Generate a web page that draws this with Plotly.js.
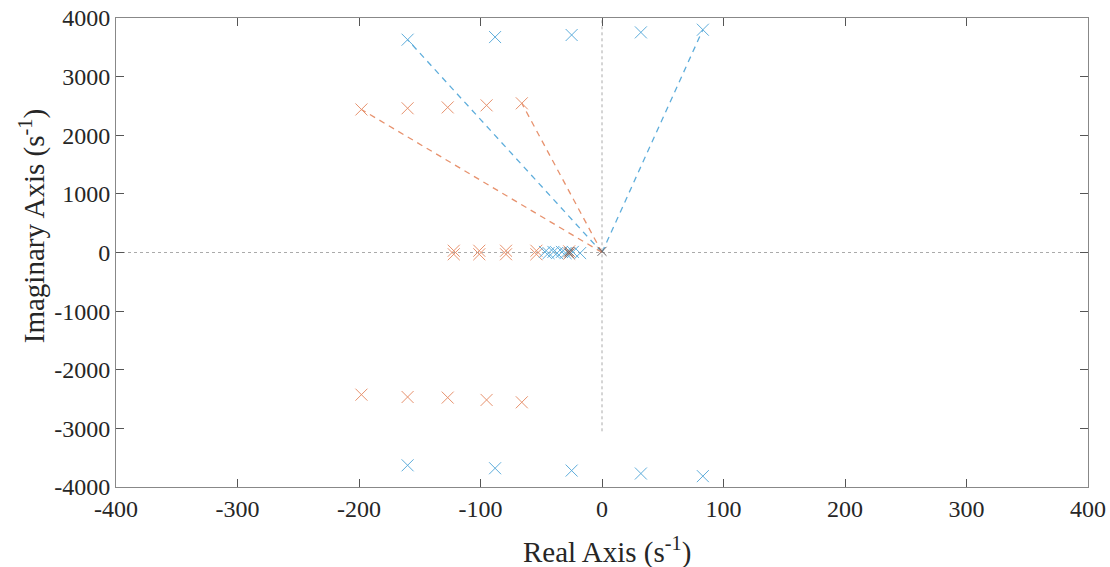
<!DOCTYPE html>
<html>
<head>
<meta charset="utf-8">
<script src="https://cdn.plot.ly/plotly-3.0.1.min.js"></script>
<style>html,body{margin:0;padding:0;background:#fff;}#chart{width:1110px;height:567px;}</style>
</head>
<body>
<div id="chart"></div>
<script>
// Blue poles (upper half; lower half conjugate)
const blueHighRe = [-160, -88, -25, 32, 83];
const blueHighIm = [3630, 3675, 3710, 3755, 3800];
const blueLowRe = [-160, -88, -25, 32, 83];
const blueLowIm = [-3630, -3680, -3720, -3770, -3815];
// Orange poles
const orangeHighRe = [-198, -160, -127, -95, -66];
const orangeHighIm = [2440, 2460, 2475, 2510, 2545];
const orangeLowRe = [-198, -160, -127, -95, -66];
const orangeLowIm = [-2425, -2465, -2475, -2515, -2555];
// Poles near the real axis
const orangeNearRe = [-122, -122, -101, -101, -79, -79, -54, -54, -27, -27];
const orangeNearIm = [30, -30, 30, -30, 30, -30, 30, -30, 20, -20];
const blueNearRe = [-47, -44, -40, -37, -33, -30, -24, -18];
const blueNearIm = [10, -10, 10, -10, 10, -10, 10, -10];
const darkNearRe = [-27, -27, 0];
const darkNearIm = [15, -15, 20];
// Dashed rays from the origin
const blueRay1Re = [0, -160], blueRay1Im = [0, 3630];
const blueRay2Re = [0, 83], blueRay2Im = [0, 3800];
const orangeRay1Re = [0, -198], orangeRay1Im = [0, 2440];
const orangeRay2Re = [0, -66], orangeRay2Im = [0, 2545];
// Axis ticks and titles
const xTicks = [-400, -300, -200, -100, 0, 100, 200, 300, 400];
const yTicks = [-4000, -3000, -2000, -1000, 0, 1000, 2000, 3000, 4000];
const xTitle = 'Real Axis (s<sup>-1</sup>)';
const yTitle = 'Imaginary Axis (s<sup>-1</sup>)';

const BLUE = '#5eaddb';
const ORANGE = '#e7926e';
const DARK = '#6a6060';

function ray(x, y, c) {
  return {x: x, y: y, mode: 'lines', line: {color: c, width: 1.3, dash: '6px,5px'}, hoverinfo: 'skip', showlegend: false};
}
function pts(x, y, c, s) {
  return {x: x, y: y, mode: 'markers', marker: {symbol: 'x-thin-open', size: s || 12, color: c, line: {color: c, width: 1}}, showlegend: false};
}

const data = [
  ray(blueRay1Re, blueRay1Im, BLUE),
  ray(blueRay2Re, blueRay2Im, BLUE),
  ray(orangeRay1Re, orangeRay1Im, ORANGE),
  ray(orangeRay2Re, orangeRay2Im, ORANGE),
  pts(orangeNearRe, orangeNearIm, ORANGE),
  pts(blueNearRe, blueNearIm, BLUE),
  pts(darkNearRe, darkNearIm, DARK, 9),
  pts(blueHighRe, blueHighIm, BLUE),
  pts(blueLowRe, blueLowIm, BLUE),
  pts(orangeHighRe, orangeHighIm, ORANGE),
  pts(orangeLowRe, orangeLowIm, ORANGE)
];

const FAM = 'Liberation Serif, Times New Roman, serif';
const tickFont = {family: FAM, size: 24, color: '#262626'};
const titleFont = {family: FAM, size: 29, color: '#262626'};

const layout = {
  width: 1110, height: 567,
  margin: {l: 116, r: 22, t: 18, b: 80},
  paper_bgcolor: '#fff', plot_bgcolor: '#fff',
  font: {family: FAM},
  xaxis: {
    range: [-400, 400], tickvals: xTicks, ticktext: xTicks.map(String),
    ticks: 'inside', ticklen: 8, tickcolor: '#555', tickwidth: 1,
    showline: true, linecolor: '#888', linewidth: 1, mirror: 'ticks',
    showgrid: false, zeroline: false, tickfont: tickFont
  },
  yaxis: {
    range: [-4000, 4000], tickvals: yTicks, ticktext: yTicks.map(String),
    ticks: 'inside', ticklen: 8, tickcolor: '#555', tickwidth: 1,
    showline: true, linecolor: '#888', linewidth: 1, mirror: 'ticks',
    showgrid: false, zeroline: false, tickfont: tickFont
  },
  annotations: [
    {text: xTitle, xref: 'paper', yref: 'paper', x: 0.505, y: -0.135, xanchor: 'center', yanchor: 'middle', showarrow: false, font: titleFont},
    {text: yTitle, xref: 'paper', yref: 'paper', x: 0, xshift: -84, y: 0.556, xanchor: 'center', yanchor: 'middle', textangle: -90, showarrow: false, font: titleFont}
  ],
  shapes: [
    {type: 'line', xref: 'x', yref: 'y', x0: -400, x1: 400, y0: 0, y1: 0, line: {color: '#aaa', width: 1, dash: 'dot'}, layer: 'below'},
    {type: 'line', xref: 'x', yref: 'y', x0: 0, x1: 0, y0: -3050, y1: 4000, line: {color: '#aaa', width: 1, dash: 'dot'}, layer: 'below'}
  ]
};

Plotly.newPlot('chart', data, layout, {displayModeBar: false, staticPlot: true});
</script>
</body>
</html>
